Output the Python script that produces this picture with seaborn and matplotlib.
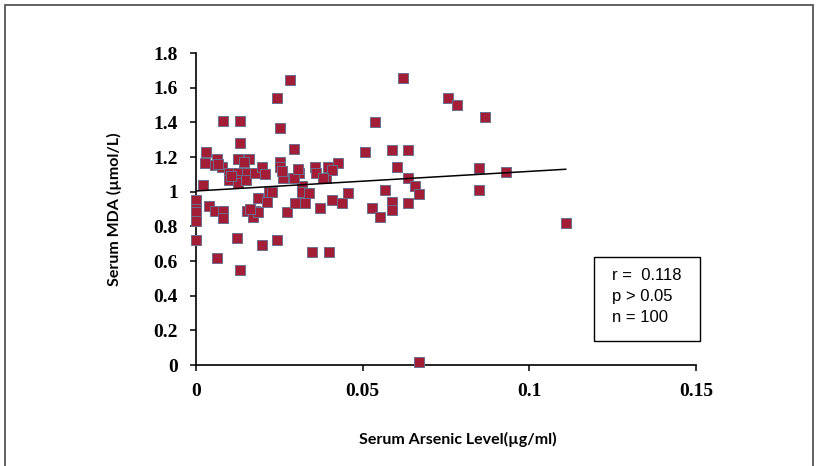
import numpy as np
import pandas as pd
import matplotlib
matplotlib.use("Agg")
import matplotlib.pyplot as plt
from matplotlib.patches import Rectangle
from matplotlib.ticker import FuncFormatter
import seaborn as sns

# ---- data ----
arsenic = [0.000, 0.000, 0.000, 0.000, 0.000, 0.002, 0.003, 0.0027, 0.004, 0.0063,
           0.0057, 0.0078, 0.0057, 0.0063, 0.0081, 0.008, 0.008, 0.010, 0.010, 0.0132,
           0.0132, 0.0126, 0.0126, 0.0126, 0.0123, 0.0132, 0.0126, 0.0153, 0.015, 0.016,
           0.0153, 0.0177, 0.017, 0.0177, 0.0186, 0.0198, 0.0198, 0.0207, 0.0213, 0.0186,
           0.022, 0.0243, 0.0243, 0.0252, 0.0252, 0.0252, 0.026, 0.0273, 0.0282, 0.0294,
           0.0297, 0.031, 0.0318, 0.0318, 0.0327, 0.0348, 0.0357, 0.036, 0.0372, 0.0396,
           0.039, 0.0408, 0.040, 0.0426, 0.0408, 0.0438, 0.0456, 0.0507, 0.0537, 0.0528,
           0.0552, 0.0567, 0.0588, 0.0588, 0.0588, 0.0603, 0.062, 0.0636, 0.0636, 0.0636,
           0.0657, 0.067, 0.067, 0.0756, 0.0783, 0.0867, 0.085, 0.085, 0.093, 0.111,
           0.0228, 0.0163, 0.0105, 0.0295, 0.0305, 0.038, 0.0066, 0.0145, 0.0258, 0.0339]
mda = [0.95, 0.90, 0.88, 0.83, 0.72, 1.04, 1.23, 1.165, 0.92, 1.19,
       1.155, 1.14, 0.89, 0.62, 1.41, 0.89, 0.85, 1.11, 1.07, 1.41,
       1.28, 1.19, 1.11, 1.07, 0.73, 0.55, 1.05, 1.11, 1.07, 1.19,
       0.89, 0.89, 0.855, 1.11, 0.965, 0.69, 1.14, 1.10, 0.94, 0.88,
       1.00, 1.54, 0.72, 1.37, 1.17, 1.14, 1.08, 0.885, 1.645, 1.245,
       0.935, 1.11, 1.03, 1.00, 0.935, 0.65, 1.14, 1.11, 0.906, 1.14,
       1.08, 0.95, 0.65, 1.165, 1.125, 0.935, 0.99, 1.23, 1.40, 0.906,
       0.855, 1.01, 1.24, 0.94, 0.894, 1.14, 1.653, 1.24, 1.08, 0.935,
       1.03, 0.985, 0.019, 1.54, 1.50, 1.43, 1.137, 1.01, 1.114, 0.82,
       1.00, 0.90, 1.09, 1.08, 1.13, 1.08, 1.16, 1.17, 1.12, 0.99]

trend_intercept = 1.004
trend_slope = 1.13

x_ticks = [0, 0.05, 0.1, 0.15]
y_ticks = [0, 0.2, 0.4, 0.6, 0.8, 1.0, 1.2, 1.4, 1.6, 1.8]
stats_lines = ["r =  0.118", "p > 0.05", "n = 100"]
x_title = "Serum Arsenic Level(µg/ml)"
y_title = "Serum MDA (µmol/L)"

df = pd.DataFrame({"arsenic": arsenic, "mda": mda})

sns.set_theme(style="ticks")
plt.rcParams["font.family"] = ["DejaVu Sans"]

W, H = 819, 466
fig = plt.figure(figsize=(W / 100, H / 100), dpi=100)
fig.patch.set_facecolor("white")
ax = fig.add_axes([196 / W, 1 - 365 / H, 500 / W, 312 / H])
ax.set_facecolor("white")

sns.scatterplot(data=df, x="arsenic", y="mda", ax=ax, marker="s", s=56,
                color="#A21D35", edgecolor="#6A6F8E", linewidth=0.7, zorder=3,
                clip_on=False)

# trend line
xl = np.array([0, max(arsenic)])
sns.lineplot(x=xl, y=trend_intercept + trend_slope * xl, ax=ax, color="black",
             linewidth=1.1, zorder=4)

ax.set_xlim(0, 0.15)
ax.set_ylim(0, 1.8)
ax.set_xticks(x_ticks)
ax.set_yticks(y_ticks)
fmt = FuncFormatter(lambda v, p: f"{v:g}")
ax.xaxis.set_major_formatter(fmt)
ax.yaxis.set_major_formatter(fmt)
for side in ["top", "right"]:
    ax.spines[side].set_visible(False)
for side in ["left", "bottom"]:
    ax.spines[side].set_linewidth(1.2)
    ax.spines[side].set_color("black")
ax.tick_params(axis="both", direction="out", length=4.5, width=1.1, color="black",
               pad=8.5, labelsize=14, labelcolor="black")
for lab in ax.get_xticklabels() + ax.get_yticklabels():
    lab.set_fontfamily(["Liberation Serif"])
    lab.set_fontweight("bold")

ax.set_xlabel(x_title, fontsize=11.5, fontweight="bold", family=["Lato", "DejaVu Sans"], color="black")
ax.set_ylabel(y_title, fontsize=11.5, fontweight="bold", family=["Lato", "DejaVu Sans"], color="black")
ax.xaxis.set_label_coords((458 - 196) / 500, (365 - 432) / 312)
ax.yaxis.set_label_coords((122 - 196) / 500, (365 - 209) / 312)
ax.grid(False)

# stats box
fig.patches.append(Rectangle((594 / W, 1 - 341 / H), 106 / W, 84 / H,
                             transform=fig.transFigure, fill=False,
                             edgecolor="black", linewidth=1.0))
for i, line in enumerate(stats_lines):
    fig.text(612 / W, 1 - (275 + 21.5 * i) / H, line, fontsize=12,
             family=["Liberation Sans"], va="center", ha="left", color="black")

# outer frame
fig.patches.append(Rectangle((5 / W, -0.02), 808 / W, 1 - 5 / H + 0.02,
                             transform=fig.transFigure, fill=False,
                             edgecolor="#555555", linewidth=1.3))

fig.savefig("out.png", dpi=100, facecolor="white")
